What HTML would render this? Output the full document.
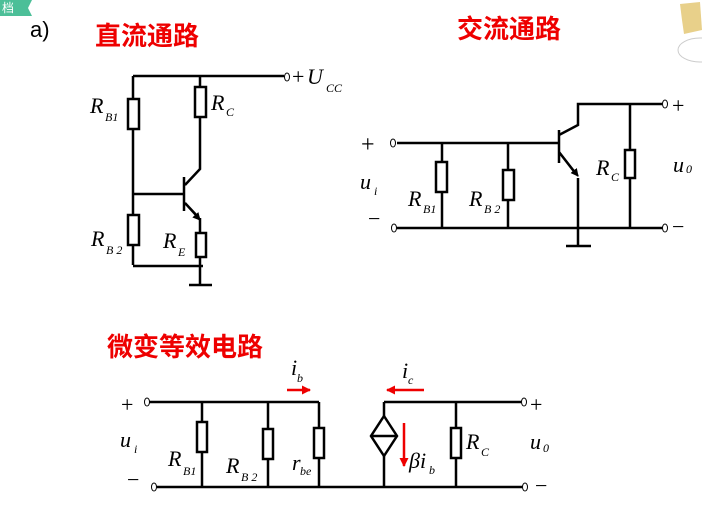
<!DOCTYPE html>
<html><head><meta charset="utf-8"><style>
html,body{margin:0;padding:0;background:#fff;}
svg{display:block;}
.t{font-family:"Liberation Serif",serif;font-style:italic;fill:#000;}
.s{font-family:"Liberation Serif",serif;font-style:italic;fill:#000;font-size:12px;}
.cn{font-family:"Liberation Sans","Noto Sans CJK SC",sans-serif;fill:#e00;font-weight:bold;}
</style></head><body>
<svg width="702" height="525" viewBox="0 0 702 525" xmlns="http://www.w3.org/2000/svg">
<defs><marker id="ar" markerWidth="8" markerHeight="8" refX="7" refY="4" orient="auto" markerUnits="userSpaceOnUse"><path d="M0,0L8,4L0,8z" fill="#000"/></marker>
<marker id="rr" markerWidth="9" markerHeight="9" refX="8" refY="4.5" orient="auto" markerUnits="userSpaceOnUse"><path d="M0,0L9,4.5L0,9z" fill="#e00"/></marker></defs>
<path d="M0,0H32L28,8L32,16H0z" fill="#4cbf98"/>
<text x="2" y="12" font-family="Noto Sans CJK SC,sans-serif" font-size="12" fill="#fff">档</text>
<text x="30" y="37" font-family="Liberation Sans,sans-serif" font-size="22" fill="#000">a)</text>
<path d="M680,4L700,2L702,30L684,34L682,20z" fill="#e8d08a"/>
<ellipse cx="700" cy="50" rx="22" ry="12" fill="none" stroke="#ccc"/>
<g stroke="#000" stroke-width="2.5" fill="none">
<path d="M133,76H284M133,76V265M200,76V87M200,117V169L185,185M133,194H184M184,177V211M185,203L199,218M200,218V233M200,257V285M133,266H203M189,285H212"/>
<rect x="128" y="99" width="11" height="30" fill="#fff"/>
<rect x="195" y="87" width="11" height="30" fill="#fff"/>
<rect x="128" y="215" width="11" height="30" fill="#fff"/>
<rect x="196" y="233" width="10" height="24" fill="#fff"/>
<path d="M397,143H558M442,143V162M442,192V228M508,143V170M508,200V228M559,130V163M559,135L578,125V104H662M559,152L576,174M578,178V246M566,246H591M397,228H662M630,104V150M630,178V228"/>
<rect x="436" y="162" width="11" height="30" fill="#fff"/>
<rect x="503" y="170" width="11" height="30" fill="#fff"/>
<rect x="625" y="150" width="10" height="28" fill="#fff"/>
<path d="M149,402H319M202,402V422M202,452V487M268,402V429M268,459V487M319,402V428M319,458V487M157,487H522M384,402H521M384,402V487M456,402V428M456,458V487"/>
<rect x="197" y="422" width="10" height="30" fill="#fff"/>
<rect x="263" y="429" width="10" height="30" fill="#fff"/>
<rect x="314" y="428" width="10" height="30" fill="#fff"/>
<rect x="451" y="428" width="10" height="30" fill="#fff"/>
<path d="M384,416L397,436L384,456L371,436z M371,436H397" fill="#fff"/>
</g>
<path d="M185,203L200,220" stroke="#000" stroke-width="2" marker-end="url(#ar)"/>
<path d="M559,152L578,176" stroke="#000" stroke-width="2" marker-end="url(#ar)"/>
<g stroke="#000" stroke-width="1" fill="#fff">
<ellipse cx="287" cy="77" rx="2.5" ry="4"/>
<ellipse cx="393" cy="143" rx="2.5" ry="4"/>
<ellipse cx="394" cy="228" rx="2.5" ry="4"/>
<ellipse cx="665" cy="104" rx="2.5" ry="4"/>
<ellipse cx="665" cy="228" rx="2.5" ry="4"/>
<ellipse cx="147" cy="402" rx="2.5" ry="4"/>
<ellipse cx="154" cy="487" rx="2.5" ry="4"/>
<ellipse cx="524" cy="402" rx="2.5" ry="4"/>
<ellipse cx="525" cy="487" rx="2.5" ry="4"/>
</g>
<g stroke="#e00" stroke-width="2.5">
<path d="M287,390H310" marker-end="url(#rr)"/>
<path d="M424,390H387" marker-end="url(#rr)"/>
<path d="M404,423V466" marker-end="url(#rr)"/>
</g>
<text class="cn" x="95" y="45" font-size="26">直流通路</text>
<text class="cn" x="457" y="38" font-size="26">交流通路</text>
<text class="cn" x="107" y="356" font-size="26">微变等效电路</text>
<text x="292" y="84" font-family="Liberation Serif,serif" font-size="22">+</text>
<text class="t" x="307" y="84" font-size="22">U</text><text class="s" x="326" y="92" font-size="14">CC</text>
<text class="t" x="90" y="113" font-size="22">R</text><text class="s" x="105" y="121">B1</text>
<text class="t" x="211" y="110" font-size="22">R</text><text class="s" x="226" y="116">C</text>
<text class="t" x="91" y="246" font-size="22">R</text><text class="s" x="106" y="254">B 2</text>
<text class="t" x="163" y="248" font-size="22">R</text><text class="s" x="178" y="256">E</text>
<text x="361" y="152" font-family="Liberation Serif,serif" font-size="24">+</text>
<text x="368" y="226" font-family="Liberation Serif,serif" font-size="22">−</text>
<text class="t" x="360" y="189" font-size="22">u</text><text class="s" x="374" y="195">i</text>
<text class="t" x="408" y="206" font-size="22">R</text><text class="s" x="423" y="213">B1</text>
<text class="t" x="469" y="206" font-size="22">R</text><text class="s" x="484" y="213">B 2</text>
<text class="t" x="596" y="175" font-size="22">R</text><text class="s" x="611" y="181">C</text>
<text class="t" x="673" y="172" font-size="22">u</text><text class="s" x="686" y="173">0</text>
<text x="672" y="113" font-family="Liberation Serif,serif" font-size="22">+</text>
<text x="672" y="234" font-family="Liberation Serif,serif" font-size="22">−</text>
<text x="121" y="412" font-family="Liberation Serif,serif" font-size="22">+</text>
<text x="127" y="487" font-family="Liberation Serif,serif" font-size="22">−</text>
<text class="t" x="120" y="447" font-size="22">u</text><text class="s" x="134" y="453">i</text>
<text class="t" x="168" y="466" font-size="22">R</text><text class="s" x="183" y="475">B1</text>
<text class="t" x="226" y="473" font-size="22">R</text><text class="s" x="241" y="481">B 2</text>
<text class="t" x="292" y="470" font-size="22">r</text><text class="s" x="300" y="475">be</text>
<text class="t" x="291" y="375" font-size="22">i</text><text class="s" x="297" y="382">b</text>
<text class="t" x="402" y="378" font-size="22">i</text><text class="s" x="408" y="384">c</text>
<text class="t" x="409" y="468" font-size="22">βi</text><text class="s" x="429" y="474">b</text>
<text class="t" x="466" y="449" font-size="22">R</text><text class="s" x="481" y="456">C</text>
<text class="t" x="530" y="449" font-size="22">u</text><text class="s" x="543" y="452">0</text>
<text x="530" y="412" font-family="Liberation Serif,serif" font-size="22">+</text>
<text x="535" y="493" font-family="Liberation Serif,serif" font-size="22">−</text>
</svg>
</body></html>
